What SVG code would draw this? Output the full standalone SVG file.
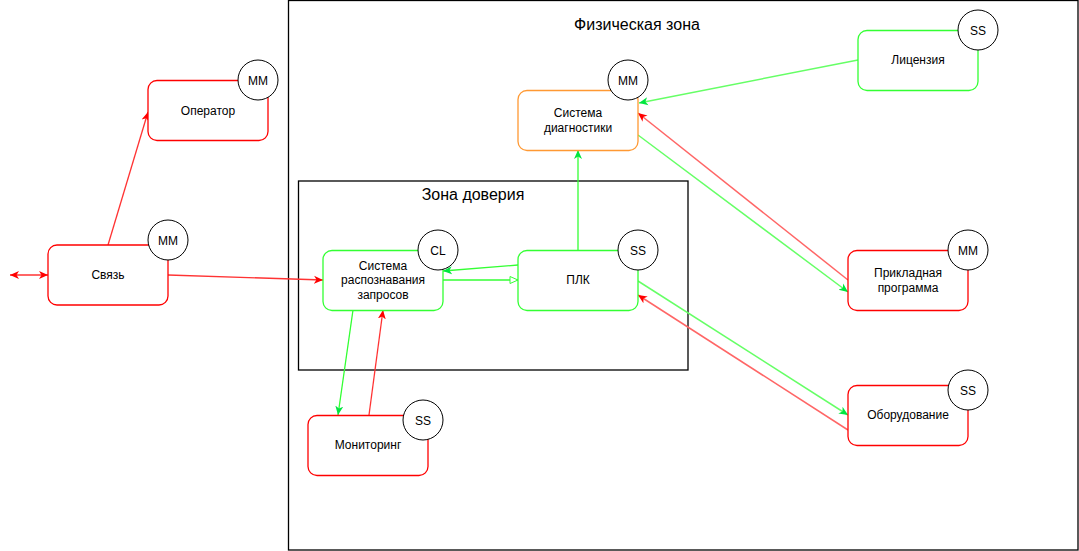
<svg xmlns="http://www.w3.org/2000/svg" width="1079" height="551" viewBox="0 0 1079 551">
<style>
.zone{fill:none;stroke:#000;stroke-width:1.3}
.nr{fill:#fff;stroke:#FF0000;stroke-width:1.3}
.ng{fill:#fff;stroke:#33FF33;stroke-width:1.3}
.no{fill:#fff;stroke:#FF9933;stroke-width:1.3}
.c{fill:#fff;stroke:#000;stroke-width:1}
text{font-family:"Liberation Sans",Arial,sans-serif;font-size:12px;fill:#000;text-anchor:middle}
.t{font-size:16px}
.lr{stroke:#FF3333;stroke-width:1.3;fill:none}
.lr2{stroke:#FF6666;stroke-width:1.5;fill:none}
.lg{stroke:#33FF33;stroke-width:1.3;fill:none}
.lg2{stroke:#66FF66;stroke-width:1.5;fill:none}
</style>
<defs>
<marker id="ar" markerUnits="userSpaceOnUse" markerWidth="10" markerHeight="10" viewBox="0 0 10 10" refX="9" refY="5" orient="auto-start-reverse"><path d="M0,1 L9,5 L0,9 L2.5,5 z" fill="#FF0000"/></marker>
<marker id="ag" markerUnits="userSpaceOnUse" markerWidth="10" markerHeight="10" viewBox="0 0 10 10" refX="9" refY="5" orient="auto"><path d="M0,1 L9,5 L0,9 L2.5,5 z" fill="#00E640"/></marker>
<marker id="ago" markerUnits="userSpaceOnUse" markerWidth="10" markerHeight="10" viewBox="0 0 10 10" refX="9" refY="5" orient="auto"><path d="M1,1.5 L9,5 L1,8.5 z" fill="#fff" stroke="#33FF33" stroke-width="1"/></marker>
</defs>
<g id="zones">
<rect class="zone" x="288.5" y="0.5" width="789.5" height="549.5"/>
<text class="t" x="637" y="30">Физическая зона</text>
<rect class="zone" x="298.5" y="181" width="389.5" height="189"/>
<text class="t" x="473" y="200">Зона доверия</text>
</g>
<g id="connectors">
<line class="lr" x1="10" y1="275" x2="48" y2="275" marker-start="url(#ar)" marker-end="url(#ar)"/>
<line class="lr" x1="108" y1="245" x2="148" y2="112" marker-end="url(#ar)"/>
<line class="lr" x1="168" y1="275" x2="323" y2="280" marker-end="url(#ar)"/>
<line class="lg" x1="518" y1="265" x2="443" y2="271" marker-end="url(#ag)"/>
<line class="lg" x1="443" y1="280" x2="518" y2="280" marker-end="url(#ago)"/>
<line class="lg" x1="578" y1="250" x2="578" y2="150" marker-end="url(#ag)"/>
<line class="lg2" x1="858" y1="60" x2="639" y2="103" marker-end="url(#ag)"/>
<line class="lr2" x1="848" y1="280" x2="638" y2="113" marker-end="url(#ar)"/>
<line class="lg2" x1="638" y1="135" x2="848" y2="292" marker-end="url(#ag)"/>
<line class="lg2" x1="638" y1="281" x2="848" y2="415" marker-end="url(#ag)"/>
<line class="lr2" x1="848" y1="430" x2="638" y2="295" marker-end="url(#ar)"/>
<line class="lg" x1="353" y1="310" x2="338" y2="415" marker-end="url(#ag)"/>
<line class="lr" x1="369" y1="415" x2="383" y2="310" marker-end="url(#ar)"/>
</g>
<g id="operator">
<rect class="nr" x="148" y="80.5" width="120" height="60" rx="9"/>
<text x="208" y="115">Оператор</text>
<circle class="c" cx="258" cy="80" r="20"/><text x="258" y="84.5">MM</text>
</g>
<g id="svyaz">
<rect class="nr" x="48" y="245" width="120" height="60" rx="9"/>
<text x="108" y="279">Связь</text>
<circle class="c" cx="168" cy="240" r="20"/><text x="168" y="244.5">MM</text>
</g>
<g id="recognition">
<rect class="ng" x="323" y="250.5" width="120" height="60" rx="9"/>
<text x="383" y="269.5">Система</text>
<text x="383" y="284">распознавания</text>
<text x="383" y="298.5">запросов</text>
<circle class="c" cx="438" cy="250" r="20"/><text x="438" y="254.5">CL</text>
</g>
<g id="plc">
<rect class="ng" x="518" y="250.5" width="120" height="60" rx="9"/>
<text x="578" y="284">ПЛК</text>
<circle class="c" cx="638" cy="250" r="20"/><text x="638" y="254.5">SS</text>
</g>
<g id="diagnostics">
<rect class="no" x="518" y="90.5" width="120" height="60" rx="9"/>
<text x="578" y="117">Система</text>
<text x="578" y="132">диагностики</text>
<circle class="c" cx="628" cy="80" r="20"/><text x="628" y="84.5">MM</text>
</g>
<g id="license">
<rect class="ng" x="858" y="30.5" width="120" height="60" rx="9"/>
<text x="918" y="64">Лицензия</text>
<circle class="c" cx="978" cy="30" r="20"/><text x="978" y="34.5">SS</text>
</g>
<g id="application">
<rect class="nr" x="848" y="250.5" width="120" height="60" rx="9"/>
<text x="908" y="277">Прикладная</text>
<text x="908" y="292">программа</text>
<circle class="c" cx="968" cy="250" r="20"/><text x="968" y="254.5">MM</text>
</g>
<g id="equipment">
<rect class="nr" x="848" y="385.5" width="120" height="60" rx="9"/>
<text x="908" y="419">Оборудование</text>
<circle class="c" cx="968" cy="390" r="20"/><text x="968" y="394.5">SS</text>
</g>
<g id="monitoring">
<rect class="nr" x="308" y="415.5" width="120" height="60" rx="9"/>
<text x="368" y="449">Мониторинг</text>
<circle class="c" cx="423" cy="420" r="20"/><text x="423" y="424.5">SS</text>
</g>
</svg>
